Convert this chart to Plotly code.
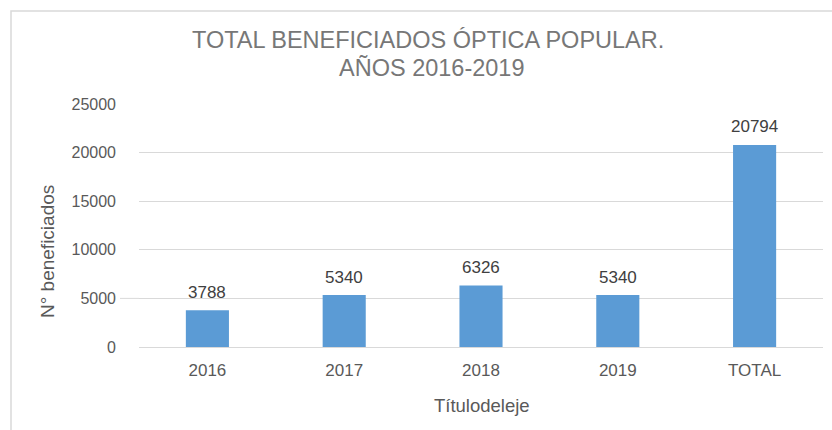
import plotly.graph_objects as go

categories = ["2016", "2017", "2018", "2019", "TOTAL"]
beneficiados = [3788, 5340, 6326, 5340, 20794]
y_ticks = [0, 5000, 10000, 15000, 20000, 25000]

W, H = 832, 430
L, R, T, B = 139, 9, 104, 83
pw, ph = W - L - R, H - T - B

def px_x(px):
    return (px - L) / pw

def px_y(py):
    return (H - B - py) / ph

font_face = "Liberation Sans, Arial, sans-serif"
grid = "#d9d9d9"

fig = go.Figure(
    go.Bar(
        x=categories,
        y=beneficiados,
        marker=dict(color="#5B9BD5", line=dict(width=0)),
        width=0.315,
        hoverinfo="x+y",
    )
)

# value labels above each bar (x given as category index)
value_labels = [
    dict(
        x=i,
        y=v,
        xref="x",
        yref="y",
        text=str(v),
        showarrow=False,
        yanchor="middle",
        yshift=18,
        font=dict(family=font_face, size=17, color="#404040"),
    )
    for i, v in enumerate(beneficiados)
]

fig.update_layout(
    width=W,
    height=H,
    margin=dict(l=L, r=R, t=T, b=B),
    paper_bgcolor="white",
    plot_bgcolor="white",
    showlegend=False,
    font=dict(family=font_face, color="#595959"),
    xaxis=dict(
        type="category",
        categoryorder="array",
        categoryarray=categories,
        range=[-0.5, len(categories) - 0.5],
        showgrid=False,
        showline=True,
        linecolor=grid,
        linewidth=1,
        ticks="",
        tickfont=dict(family=font_face, size=17, color="#595959"),
        ticklabelstandoff=8,
    ),
    yaxis=dict(
        range=[0, 25000],
        tickvals=y_ticks,
        ticktext=[str(v) for v in y_ticks],
        showgrid=True,
        gridcolor=grid,
        gridwidth=1,
        zeroline=False,
        showline=False,
        ticks="",
        tickfont=dict(family=font_face, size=16, color="#595959"),
        ticklabelstandoff=22,
    ),
    shapes=[
        dict(
            type="rect",
            xref="paper",
            yref="paper",
            x0=px_x(11),
            x1=px_x(845),
            y0=px_y(445),
            y1=px_y(11),
            line=dict(color=grid, width=1.5),
            fillcolor="rgba(0,0,0,0)",
            layer="below",
        ),
        dict(
            type="line",
            xref="paper",
            yref="y",
            x0=px_x(120),
            x1=0,
            y0=5000,
            y1=5000,
            line=dict(color=grid, width=1),
            layer="below",
        ),
    ],
    annotations=value_labels
    + [
        dict(
            text="TOTAL BENEFICIADOS ÓPTICA POPULAR.",
            xref="paper",
            yref="paper",
            x=px_x(428),
            y=px_y(40),
            xanchor="center",
            yanchor="middle",
            showarrow=False,
            font=dict(family=font_face, size=23.5, color="#777777"),
        ),
        dict(
            text="AÑOS 2016-2019",
            xref="paper",
            yref="paper",
            x=px_x(432),
            y=px_y(68),
            xanchor="center",
            yanchor="middle",
            showarrow=False,
            font=dict(family=font_face, size=23.5, color="#777777"),
        ),
        dict(
            text="N° beneficiados",
            xref="paper",
            yref="paper",
            x=px_x(47),
            y=px_y(252),
            xanchor="center",
            yanchor="middle",
            textangle=-90,
            showarrow=False,
            font=dict(family=font_face, size=19, color="#595959"),
        ),
        dict(
            text="Títulodeleje",
            xref="paper",
            yref="paper",
            x=px_x(482),
            y=px_y(405),
            xanchor="center",
            yanchor="middle",
            showarrow=False,
            font=dict(family=font_face, size=18.5, color="#595959"),
        ),
    ],
)

fig.write_html("out.html")
